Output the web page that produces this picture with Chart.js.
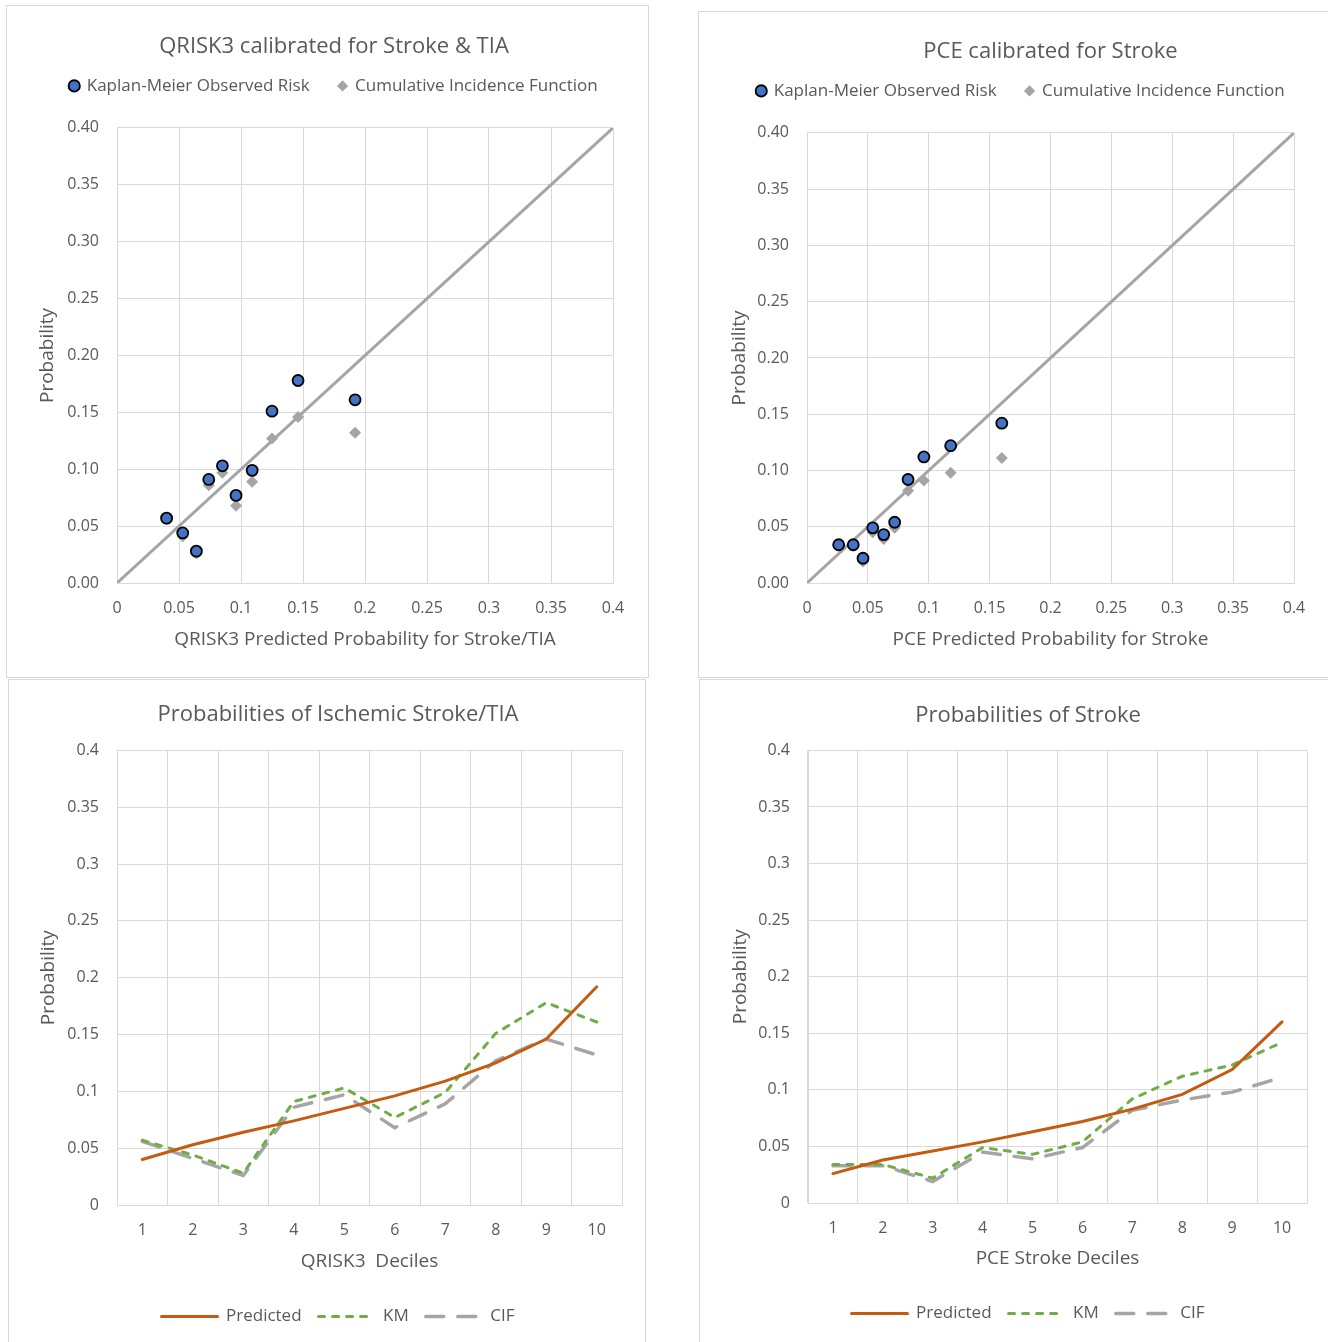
<!DOCTYPE html>
<html>
<head>
<meta charset="utf-8">
<script src="https://cdn.jsdelivr.net/npm/chart.js@4.4.1/dist/chart.umd.min.js"></script>
<style>
  body { margin: 0; background: #fff; width: 1328px; height: 1342px; position: relative; overflow: hidden; }
  .panel { position: absolute; border: 1px solid #d9d9d9; box-sizing: border-box; }
  canvas { position: absolute; }
</style>
</head>
<body>
<div class="panel" style="left:6px;top:5px;width:643px;height:673px"></div>
<div class="panel" style="left:698px;top:11px;width:640px;height:667px"></div>
<div class="panel" style="left:8px;top:679px;width:638px;height:670px"></div>
<div class="panel" style="left:699px;top:679px;width:640px;height:670px"></div>
<canvas id="qriskCal" width="642" height="672" style="left:6px;top:5px"></canvas>
<canvas id="pceCal" width="630" height="666" style="left:698px;top:11px"></canvas>
<canvas id="qriskDeciles" width="638" height="663" style="left:8px;top:679px"></canvas>
<canvas id="pceDeciles" width="629" height="663" style="left:699px;top:679px"></canvas>
<script>
'use strict'

// values (one entry per decile)
const deciles = ['1', '2', '3', '4', '5', '6', '7', '8', '9', '10']
const qriskPredicted = [0.040, 0.053, 0.064, 0.074, 0.085, 0.096, 0.109, 0.125, 0.146, 0.192]
const qriskKM = [0.057, 0.044, 0.028, 0.091, 0.103, 0.077, 0.099, 0.151, 0.178, 0.161]
const qriskCIF = [0.056, 0.041, 0.026, 0.086, 0.097, 0.068, 0.089, 0.127, 0.146, 0.132]
const pcePredicted = [0.026, 0.038, 0.046, 0.054, 0.063, 0.072, 0.083, 0.096, 0.118, 0.160]
const pceKM = [0.034, 0.034, 0.022, 0.049, 0.043, 0.054, 0.092, 0.112, 0.122, 0.142]
const pceCIF = [0.033, 0.033, 0.019, 0.045, 0.039, 0.049, 0.082, 0.091, 0.098, 0.111]
const perfectCalibration = [0, 0.4]

const scatterXTicks = ['0', '0.05', '0.1', '0.15', '0.2', '0.25', '0.3', '0.35', '0.4']
const scatterYTicks = ['0.00', '0.05', '0.10', '0.15', '0.20', '0.25', '0.30', '0.35', '0.40']
const lineYTicks = ['0', '0.05', '0.1', '0.15', '0.2', '0.25', '0.3', '0.35', '0.4']

const textColor = '#595959'
const gridColor = '#d9d9d9'

Chart.defaults.font.family = "'Open Sans', sans-serif"
Chart.defaults.color = textColor

function fixWidth (w) {
  return scale => { scale.width = w }
}
function fixHeight (h) {
  return scale => { scale.height = h }
}

// empty axis used only to reserve space in the layout
function spacer (position, size) {
  return {
    type: 'linear',
    position,
    ticks: { display: false },
    grid: { display: false },
    border: { display: false },
    afterFit: position === 'top' ? fixHeight(size) : fixWidth(size)
  }
}

function yAxis (labels, g) {
  return {
    min: 0,
    max: 0.4,
    ticks: { stepSize: 0.05, padding: 18, font: { size: 16 }, color: textColor, callback: (v, i) => labels[i] },
    grid: { color: gridColor, drawTicks: false },
    border: { color: gridColor },
    title: { display: true, text: 'Probability', font: { size: 19 }, color: textColor, padding: { top: g.yTitlePad, bottom: 0 } },
    afterFit: fixWidth(g.yWidth)
  }
}

function calibrationChart (id, g, title, xTitle, predicted, km, cif) {
  new Chart(document.getElementById(id), {
    type: 'scatter',
    data: {
      datasets: [
        {
          label: 'Kaplan-Meier Observed Risk',
          data: predicted.map((x, i) => ({ x, y: km[i] })),
          xAxisID: 'x',
          yAxisID: 'y',
          pointStyle: 'circle',
          pointRadius: 5.5,
          backgroundColor: '#4472c4',
          borderColor: '#000000',
          borderWidth: 1.8
        },
        {
          label: 'Cumulative Incidence Function',
          data: predicted.map((x, i) => ({ x, y: cif[i] })),
          xAxisID: 'x',
          yAxisID: 'y',
          pointStyle: 'rectRot',
          pointRadius: 6,
          backgroundColor: '#a5a5a5',
          borderColor: '#a5a5a5',
          borderWidth: 0
        },
        {
          label: 'diagonal',
          type: 'line',
          data: perfectCalibration.map(v => ({ x: v, y: v })),
          xAxisID: 'x',
          yAxisID: 'y',
          borderColor: '#a5a5a5',
          borderWidth: 3,
          pointRadius: 0,
          showLine: true
        }
      ]
    },
    options: {
      responsive: false,
      animation: false,
      layout: { padding: g.pad },
      plugins: {
        title: { display: true, text: title, font: { size: 22, weight: 'normal' }, color: textColor, padding: g.titlePad, fullSize: g.titleFull },
        legend: {
          labels: {
            usePointStyle: true,
            boxWidth: 8,
            boxHeight: 8,
            padding: 29,
            color: textColor,
            font: { size: 17 },
            filter: item => item.datasetIndex < 2
          }
        },
        tooltip: { enabled: false }
      },
      scales: {
        x: {
          type: 'linear',
          min: 0,
          max: 0.4,
          ticks: { stepSize: 0.05, padding: 16, font: { size: 16 }, color: textColor, callback: (v, i) => scatterXTicks[i] },
          grid: { color: gridColor, drawTicks: false },
          border: { color: gridColor },
          title: { display: true, text: xTitle, font: { size: 19 }, color: textColor, padding: { top: 4, bottom: 4 } },
          afterFit: fixHeight(72)
        },
        y: yAxis(scatterYTicks, g),
        gapTop: spacer('top', g.gap),
        gapRight: spacer('right', g.rightGap)
      }
    }
  })
}

function decileChart (id, g, title, xTitle, predicted, km, cif) {
  new Chart(document.getElementById(id), {
    type: 'line',
    data: {
      labels: deciles,
      datasets: [
        { label: 'Predicted', data: predicted, yAxisID: 'y', borderColor: '#c55a11', backgroundColor: '#c55a11', borderWidth: 3, borderCapStyle: 'round', pointRadius: 0 },
        { label: 'KM', data: km, yAxisID: 'y', borderColor: '#70ad47', backgroundColor: '#70ad47', borderWidth: 3, borderDash: [6, 8], borderCapStyle: 'round', pointRadius: 0 },
        { label: 'CIF', data: cif, yAxisID: 'y', borderColor: '#a5a5a5', backgroundColor: '#a5a5a5', borderWidth: 3.5, borderDash: [18, 14], borderCapStyle: 'round', pointRadius: 0 }
      ]
    },
    options: {
      responsive: false,
      animation: false,
      layout: { padding: g.pad },
      plugins: {
        title: { display: true, text: title, font: { size: 22, weight: 'normal' }, color: textColor, padding: g.titlePad },
        legend: {
          position: 'bottom',
          labels: {
            usePointStyle: true,
            pointStyle: 'line',
            pointStyleWidth: 56,
            boxHeight: 8,
            padding: 17,
            color: textColor,
            font: { size: 17 },
            generateLabels: chart => chart.data.datasets.map((ds, i) => ({
              text: ds.label,
              datasetIndex: i,
              hidden: false,
              fillStyle: ds.borderColor,
              strokeStyle: ds.borderColor,
              lineWidth: ds.borderWidth,
              lineDash: ds.borderDash || [],
              lineCap: ds.borderCapStyle,
              pointStyle: 'line',
              fontColor: textColor
            }))
          }
        },
        tooltip: { enabled: false }
      },
      scales: {
        x: {
          offset: true,
          ticks: { padding: 16, font: { size: 16 }, color: textColor },
          grid: { color: gridColor, drawTicks: false, offset: true },
          border: { color: gridColor },
          title: { display: true, text: xTitle, font: { size: 19 }, color: textColor, padding: { top: 4, bottom: 18 } },
          afterFit: fixHeight(g.xHeight)
        },
        y: yAxis(lineYTicks, g),
        gapRight: spacer('right', g.rightGap)
      }
    }
  })
}

calibrationChart('qriskCal', {
  pad: { left: 14, right: 0, top: 0, bottom: 22 },
  titlePad: { top: 29, bottom: -12 },
  titleFull: true,
  gap: 23.5,
  rightGap: 35,
  yWidth: 97,
  yTitlePad: 16.6
}, 'QRISK3 calibrated for Stroke & TIA', 'QRISK3 Predicted Probability for Stroke/TIA', qriskPredicted, qriskKM, qriskCIF)

calibrationChart('pceCal', {
  pad: { left: 16, right: 0, top: 0, bottom: 22 },
  titlePad: { top: 28, bottom: -12 },
  titleFull: false,
  gap: 23.5,
  rightGap: 34,
  yWidth: 93,
  yTitlePad: 14
}, 'PCE calibrated for Stroke', 'PCE Predicted Probability for Stroke', pcePredicted, pceKM, pceCIF)

decileChart('qriskDeciles', {
  pad: { left: 22, right: 0, top: 0, bottom: 7 },
  titlePad: { top: 22.5, bottom: 22.5 },
  rightGap: 24,
  xHeight: 86,
  yWidth: 87,
  yTitlePad: 6.8
}, 'Probabilities of Ischemic Stroke/TIA', 'QRISK3  Deciles', qriskPredicted, qriskKM, qriskCIF)

decileChart('pceDeciles', {
  pad: { left: 29, right: 0, top: 0, bottom: 10 },
  titlePad: { top: 23.5, bottom: 21.5 },
  rightGap: 21,
  xHeight: 85,
  yWidth: 80,
  yTitlePad: 0.8
}, 'Probabilities of Stroke', 'PCE Stroke Deciles', pcePredicted, pceKM, pceCIF)
</script>
</body>
</html>
